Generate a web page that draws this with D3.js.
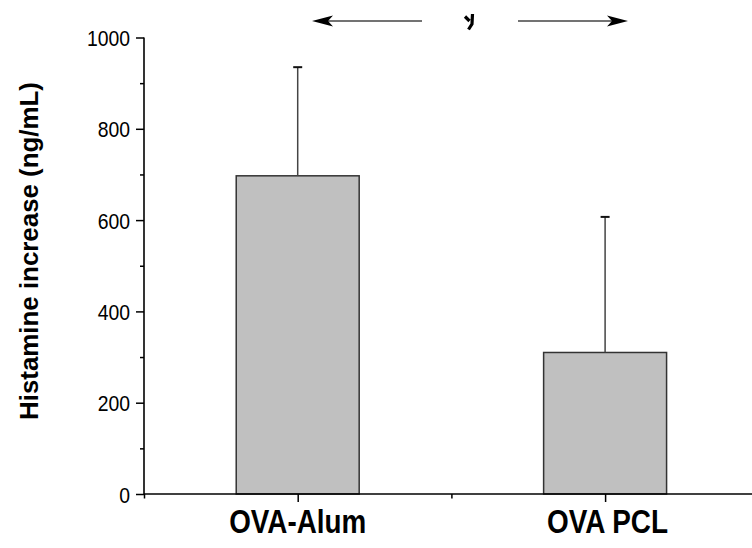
<!DOCTYPE html>
<html>
<head>
<meta charset="utf-8">
<script src="https://cdn.jsdelivr.net/npm/d3@7"></script>
<style>
  body { margin: 0; background: #fff; }
  text { font-family: "Liberation Sans", Arial, Helvetica, sans-serif; }
</style>
</head>
<body>
<div id="chart"></div>
<script>
// data
var categories = ["OVA-Alum", "OVA PCL"];
var means = [697, 310];
var errors = [238, 297];   // upper error bar (SD)
var yTicks = [0, 200, 400, 600, 800, 1000];
var yMinor = [100, 300, 500, 700, 900];

var width = 752, height = 548;
var svg = d3.select("#chart").append("svg")
    .attr("width", width)
    .attr("height", height);

// axes geometry
var x0 = 144, y0 = 494, yTop = 37.5, step = 153.7;
var x = d3.scaleLinear().domain([0, 4]).range([x0, x0 + 4 * step]);
var y = d3.scaleLinear().domain([0, 1000]).range([y0, yTop]);

// squeeze a text to look like the narrow font of the original
function condense(sel, f) {
  sel.each(function() {
    var t = d3.select(this);
    var len = this.getComputedTextLength();
    t.attr("textLength", len * f).attr("lengthAdjust", "spacingAndGlyphs");
  });
}

// bars
var barW = 0.8;
svg.selectAll("rect.bar")
  .data(means)
  .enter().append("rect")
  .attr("class", "bar")
  .attr("x", function(d, i) { return x(2 * i + 1 - barW / 2); })
  .attr("width", x(barW) - x(0))
  .attr("y", function(d) { return y(d); })
  .attr("height", function(d) { return y0 - y(d); })
  .style("fill", "#c0c0c0")
  .style("stroke", "#333")
  .style("stroke-width", 1.5);

// error bars (upper only)
var eb = svg.selectAll("g.err")
  .data(means)
  .enter().append("g")
  .attr("class", "err");
eb.append("line")
  .attr("x1", function(d, i) { return x(2 * i + 1); })
  .attr("x2", function(d, i) { return x(2 * i + 1); })
  .attr("y1", function(d) { return y(d); })
  .attr("y2", function(d, i) { return y(d + errors[i]); })
  .style("stroke", "#444")
  .style("stroke-width", 1.5);
eb.append("line")
  .attr("x1", function(d, i) { return x(2 * i + 1) - 4.5; })
  .attr("x2", function(d, i) { return x(2 * i + 1) + 4.5; })
  .attr("y1", function(d, i) { return y(d + errors[i]); })
  .attr("y2", function(d, i) { return y(d + errors[i]); })
  .style("stroke", "#111")
  .style("stroke-width", 2);

// y axis
var yAxis = svg.append("g")
  .attr("transform", "translate(" + x0 + ",0)")
  .call(d3.axisLeft(y).tickValues(yTicks).tickSize(8).tickPadding(6).tickFormat(d3.format("d")));
svg.append("g")
  .attr("transform", "translate(" + x0 + ",0)")
  .call(d3.axisLeft(y).tickValues(yMinor).tickSize(4).tickFormat(""))
  .select(".domain").remove();
yAxis.select(".domain").attr("d", "M0," + y0 + "V" + yTop);
yAxis.selectAll("text")
  .style("font-size", "22.5px")
  .attr("fill", "#000")
  .attr("dy", "0.36em");
condense(yAxis.selectAll("text"), 0.86);

// x axis
var xAxis = svg.append("g")
  .attr("transform", "translate(0," + y0 + ")")
  .call(d3.axisBottom(x).tickValues([1, 3]).tickSize(8).tickFormat(""));
svg.append("g")
  .attr("transform", "translate(0," + y0 + ")")
  .call(d3.axisBottom(x).tickValues([0, 2, 4]).tickSize(4.5).tickFormat(""))
  .select(".domain").remove();
xAxis.select(".domain").attr("d", "M" + x0 + ",0H" + x(4));

svg.selectAll(".domain").style("stroke", "#000").style("stroke-width", 1.6);
svg.selectAll(".tick line").style("stroke", "#000").style("stroke-width", 1.5);

// category labels
var catWidths = [137, 121];
svg.selectAll("text.cat")
  .data(categories)
  .enter().append("text")
  .attr("class", "cat")
  .attr("x", function(d, i) { return x(2 * i + 1) + i * 2.5; })
  .attr("y", 533)
  .attr("text-anchor", "middle")
  .attr("textLength", function(d, i) { return catWidths[i]; })
  .attr("lengthAdjust", "spacingAndGlyphs")
  .style("font-size", "33.5px")
  .style("font-weight", "bold")
  .text(function(d) { return d; });

// y title
svg.append("text")
  .attr("transform", "translate(37.5,251) rotate(-90)")
  .attr("text-anchor", "middle")
  .attr("textLength", 338)
  .attr("lengthAdjust", "spacingAndGlyphs")
  .style("font-size", "25.5px")
  .style("font-weight", "bold")
  .text("Histamine increase (ng/mL)");

// significance annotation at the top: two arrows pointing outwards
var arrows = [{tip: 312, tail: 422, dir: -1}, {tip: 628, tail: 518, dir: 1}];
var ay = 21;
svg.selectAll("line.arrow")
  .data(arrows)
  .enter().append("line")
  .attr("class", "arrow")
  .attr("x1", function(d) { return d.tail; })
  .attr("x2", function(d) { return d.tip - d.dir * 10; })
  .attr("y1", ay).attr("y2", ay)
  .style("stroke", "#444").style("stroke-width", 1.6);
svg.selectAll("path.head")
  .data(arrows)
  .enter().append("path")
  .attr("class", "head")
  .attr("d", function(d) {
    var s = -d.dir;
    return "M" + d.tip + "," + ay +
      "L" + (d.tip + s * 21) + "," + (ay - 5.5) +
      "L" + (d.tip + s * 16) + "," + ay +
      "L" + (d.tip + s * 21) + "," + (ay + 5.5) + "Z";
  })
  .attr("fill", "#000");
// clipped symbol between the arrows
svg.append("path")
  .attr("d", "M465,16.5 L469.5,21 M472.5,14 L472,24 L468.5,29.5")
  .style("fill", "none")
  .style("stroke", "#000")
  .style("stroke-width", 3.2);
</script>
</body>
</html>
